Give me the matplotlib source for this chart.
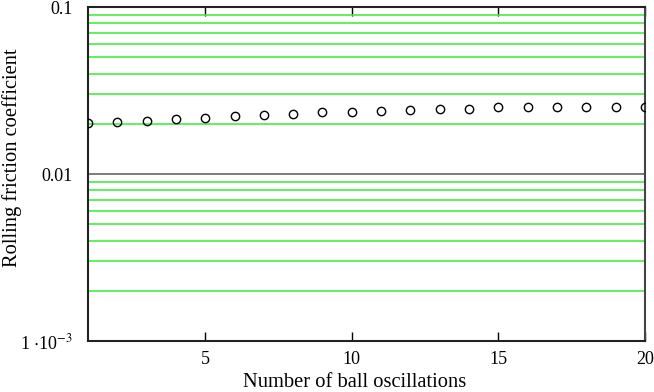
import numpy as np
import matplotlib
matplotlib.use('Agg')
import matplotlib.pyplot as plt
from matplotlib.ticker import LogLocator, NullFormatter

plt.rcParams['font.family'] = ['Liberation Serif', 'DejaVu Serif']
plt.rcParams['mathtext.fontset'] = 'stix'

oscillations = np.arange(1, 21)
friction = [0.0201, 0.0204, 0.0208, 0.0213, 0.0217, 0.0222, 0.0226, 0.0230,
            0.0234, 0.0234, 0.0239, 0.0243, 0.0246, 0.0245, 0.0251, 0.0251,
            0.0251, 0.0251, 0.0251, 0.0252]

y_ticks = [1e-3, 1e-2, 1e-1]
y_tick_labels = [r'1 $\cdot$10$^{-3}$', '0.01', '0.1']
x_ticks = [5, 10, 15, 20]

fig = plt.figure(figsize=(6.54, 3.92), dpi=100)
ax = fig.add_axes([0.1346, 0.130, 0.8514, 0.852])

ax.set_yscale('log')
ax.set_xlim(1, 20)
ax.set_ylim(1e-3, 0.1)

# grid: bright green on minor decades, grey on the major one
ax.yaxis.set_minor_locator(LogLocator(base=10, subs=np.arange(2, 10)))
ax.yaxis.set_minor_formatter(NullFormatter())
ax.grid(True, which='minor', axis='y', color='#44ee44', linewidth=1.2)
ax.grid(True, which='major', axis='y', color='#666666', linewidth=1.2)
ax.set_axisbelow(True)

ax.plot(oscillations, friction, linestyle='none', marker='o', markersize=6,
        markerfacecolor='none', markeredgecolor='black', markeredgewidth=1.0,
        clip_on=True, zorder=3)

ax.set_yticks(y_ticks)
ax.set_yticklabels(y_tick_labels)
ax.set_xticks(x_ticks)
ax.set_xticklabels([str(t) for t in x_ticks])

ax.tick_params(axis='y', which='both', length=0, labelsize=13, pad=11)
ax.tick_params(axis='x', which='major', direction='in', length=6.5, width=1,
               top=True, labelsize=13, pad=7)
ax.tick_params(axis='x', which='minor', bottom=False, top=False)

for side in ['left', 'bottom', 'top']:
    ax.spines[side].set_color('#222222')
    ax.spines[side].set_linewidth(1.5)
ax.spines['right'].set_color('#444444')
ax.spines['right'].set_linewidth(1.5)

ax.set_xlabel('Number of ball oscillations', fontsize=14.8)
ax.xaxis.set_label_coords(0.478, -0.095)
ax.set_ylabel('Rolling friction coefficient', fontsize=14.8)
ax.yaxis.set_label_coords(-0.118, 0.55)

fig.savefig('out.png', dpi=100)
